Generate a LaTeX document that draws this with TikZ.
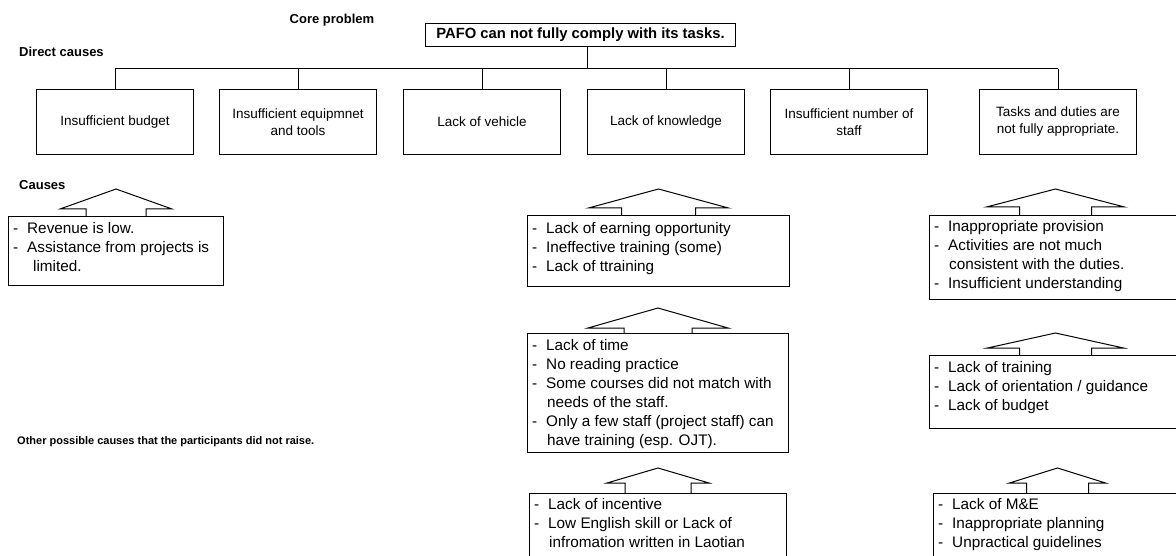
\documentclass[tikz,border=0pt]{standalone}
\usepackage{fontspec}
\setmainfont{Liberation Sans}
\usetikzlibrary{calc}

% list helpers for the cause boxes
\newcommand\dashitem[1]{\makebox[14pt][l]{-}#1}
\newcommand\contline[1]{\hspace*{15pt}#1}

% up-pointing block arrow sitting on the top edge of a box
% #1 box node, #2 wing half width, #3 stem half width, #4 head height, #5 stem height
\newcommand\uparrowon[5]{%
  \draw[blockarrow] ([xshift=-#3pt]#1.north) -- ++(0,-#5) -- ++({-(#2-#3)},0)
    -- ++(#2,-#4) -- ++(#2,#4) -- ++({-(#2-#3)},0) -- ++(0,#5);}

\tikzset{
  effectbox/.style={draw, line width=1pt, minimum width=157pt, minimum height=65pt,
    inner sep=0pt, align=center, anchor=north, font=\fontsize{13.5}{17}\selectfont},
  causebox/.style={draw, line width=1pt, inner sep=0pt, anchor=north west},
  causetext/.style={anchor=north west, inner sep=0pt, align=left,
    font=\fontsize{15.3}{19}\selectfont},
  heading/.style={inner sep=0pt, font=\fontsize{13}{15}\bfseries\selectfont},
  blockarrow/.style={draw, line width=1pt, line join=miter},
  link/.style={draw, line width=1pt},
}

\begin{document}
\begin{tikzpicture}[x=1pt, y=-1pt]
\clip (0,0) rectangle (1176,556);
\fill[white] (0,0) rectangle (1176,556);

% headings
\node[heading] (hcore) at (332,20) {Core problem};
\node[heading, anchor=west] (hdirect) at (19,52) {Direct causes};
\node[heading, anchor=west] (hcauses) at (19,185) {Causes};
\node[heading, anchor=west, font=\fontsize{11}{14}\bfseries\selectfont] (hother) at (17,442)
  {Other possible causes that the participants did not raise.};

% core problem
\node[draw, line width=1pt, minimum width=310pt, minimum height=23pt, inner sep=0pt,
  anchor=north west, font=\fontsize{14.8}{16}\bfseries\selectfont] (core) at (425,23)
  {PAFO can not fully comply with its tasks.};

% direct causes
\node[effectbox] (d1) at (115,89) {Insufficient budget};
\node[effectbox] (d2) at (298,89) {Insufficient equipmnet\\and tools};
\node[effectbox] (d3) at (482,89) {Lack of vehicle};
\node[effectbox] (d4) at (666,89) {Lack of knowledge};
\node[effectbox] (d5) at (849,89) {Insufficient number of\\staff};
\node[effectbox] (d6) at (1058,89) {Tasks and duties are\\not fully appropriate.};

\coordinate (bus) at (587,69);
\draw[link] (bus |- core.south) -- (bus);
\draw[link] (d1.north |- bus) -- (d6.north |- bus);
\foreach \n in {d1,d2,d3,d4,d5,d6}
  \draw[link] (\n.north) -- (\n.north |- bus);

% cause boxes
\node[causebox, minimum width=215pt, minimum height=69pt] (l1) at (8,216) {};
\node[causebox, minimum width=262pt, minimum height=71pt] (m1) at (527,215) {};
\node[causebox, minimum width=261pt, minimum height=119pt] (m2) at (527,333) {};
\node[causebox, minimum width=257pt, minimum height=90pt] (m3) at (529,493) {};
\node[causebox, minimum width=252pt, minimum height=84pt] (r1) at (929,215) {};
\node[causebox, minimum width=252pt, minimum height=73pt] (r2) at (929,355) {};
\node[causebox, minimum width=248pt, minimum height=90pt] (r3) at (933,493) {};

% cause texts
\node[causetext] (l1t) at ($(l1.north west)+(5,6)$)
  {\dashitem{Revenue is low.}\\\dashitem{Assistance from projects is}\\\hspace*{20pt}limited.};
\node[causetext] (m1t) at ($(m1.north west)+(5,7)$)
  {\dashitem{Lack of earning opportunity}\\\dashitem{Ineffective training (some)}\\\dashitem{Lack of ttraining}};
\node[causetext] (m2t) at ($(m2.north west)+(5,6)$)
  {\dashitem{Lack of time}\\\dashitem{No reading practice}\\\dashitem{Some courses did not match with}\\
   \contline{needs of the staff.}\\\dashitem{Only a few staff (project staff) can}\\\contline{have training (esp. OJT).}};
\node[causetext] (m3t) at ($(m3.north west)+(5,5)$)
  {\dashitem{Lack of incentive}\\\dashitem{Low English skill or Lack of}\\\contline{infromation written in Laotian}};
\node[causetext] (r1t) at ($(r1.north west)+(5,5)$)
  {\dashitem{Inappropriate provision}\\\dashitem{Activities are not much}\\\contline{consistent with the duties.}\\\dashitem{Insufficient understanding}};
\node[causetext] (r2t) at ($(r2.north west)+(5,6)$)
  {\dashitem{Lack of training}\\\dashitem{Lack of orientation / guidance}\\\dashitem{Lack of budget}};
\node[causetext] (r3t) at ($(r3.north west)+(5,5)$)
  {\dashitem{Lack of M\&E}\\\dashitem{Inappropriate planning}\\\dashitem{Unpractical guidelines}};

% block arrows
\uparrowon{l1}{56}{30}{20}{7}
\uparrowon{m1}{70}{37}{19}{7}
\uparrowon{m2}{70}{34}{20}{5}
\uparrowon{m3}{51}{33}{15}{10}
\uparrowon{r1}{69}{36}{18}{8}
\uparrowon{r2}{68}{36}{15}{7}
\uparrowon{r3}{48}{31}{15}{10}
\end{tikzpicture}
\end{document}
